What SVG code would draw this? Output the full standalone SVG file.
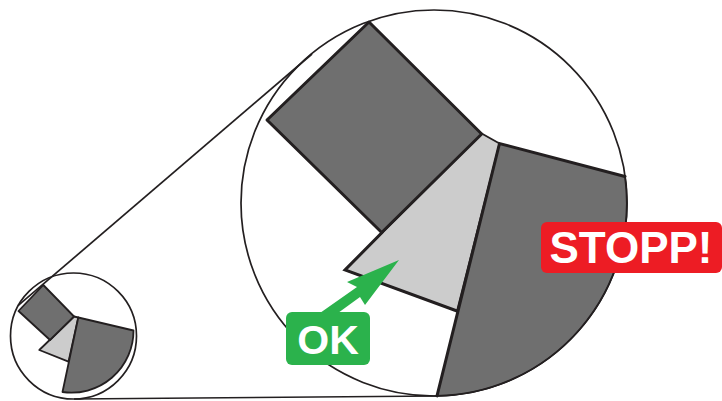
<svg xmlns="http://www.w3.org/2000/svg" width="722" height="401" viewBox="0 0 722 401">
<style>
.circ{fill:#fff;stroke:#231f20;stroke-width:1.7}
.dark{fill:#6f6f6f;stroke:#231f20;stroke-linejoin:round}
.light{fill:#cccccc;stroke:#231f20;stroke-linejoin:round}
.thick{stroke-width:3}
.thin{stroke-width:1.8}
.edge{fill:none;stroke:#231f20;stroke-linecap:round}
.tan{fill:none;stroke:#231f20;stroke-width:1.7}
.lbl{font-family:"Liberation Sans",Arial,sans-serif;font-weight:bold;fill:#fff;text-anchor:middle}
</style>
<rect width="722" height="401" fill="#fff"/>
<g id="big-view">
<circle class="circ" cx="434" cy="203" r="193"/>
<polygon class="light thin" points="345,270 457,311 499.5,143.5 481.7,133.5"/>
<path class="edge thick" d="M382,232.5 L345,270 L457,311"/>
<polygon class="dark thick" points="369,22 481.7,134 381.7,232.5 267,120"/>
<path class="dark" d="M499.5,143.5 L625,176.5 A193,193 0 0 1 437,395.9 Z" stroke="none"/>
<path class="edge thick" d="M625,176.5 L499.5,143.5 L437,395.9"/>
<path class="edge thin" d="M625,176.5 A193,193 0 0 1 437,395.9"/>
</g>
<g id="small-view">
<circle class="circ" cx="73.5" cy="336" r="63"/>
<polygon class="light thin" points="39.3,350 68.5,361.7 78.3,317.5 74,316.5"/>
<polygon class="dark thin" points="43.3,285 74,316.5 50,340 18.5,311"/>
<path class="dark thin" d="M78.3,317.5 L133.5,330.5 A62,62 0 0 1 62.5,392 Z"/>
</g>
<g id="connectors">
<line class="tan" x1="18" y1="305.7" x2="312" y2="54"/>
<line class="tan" x1="74" y1="399" x2="437" y2="396"/>
<polygon fill="#2bb24c" points="399,260 365,305 360,297 338,313 320,313 357,287 347,282"/>
</g>
<g id="label-ok">
<rect x="286" y="312" width="84" height="53" rx="6" fill="#2bb24c"/>
<text class="lbl" x="328" y="354" font-size="41">OK</text>
</g>
<g id="label-stopp">
<rect x="541" y="222" width="181" height="51" rx="6" fill="#ed1c24"/>
<text class="lbl" x="631" y="263" font-size="44">STOPP!</text>
</g>
</svg>
